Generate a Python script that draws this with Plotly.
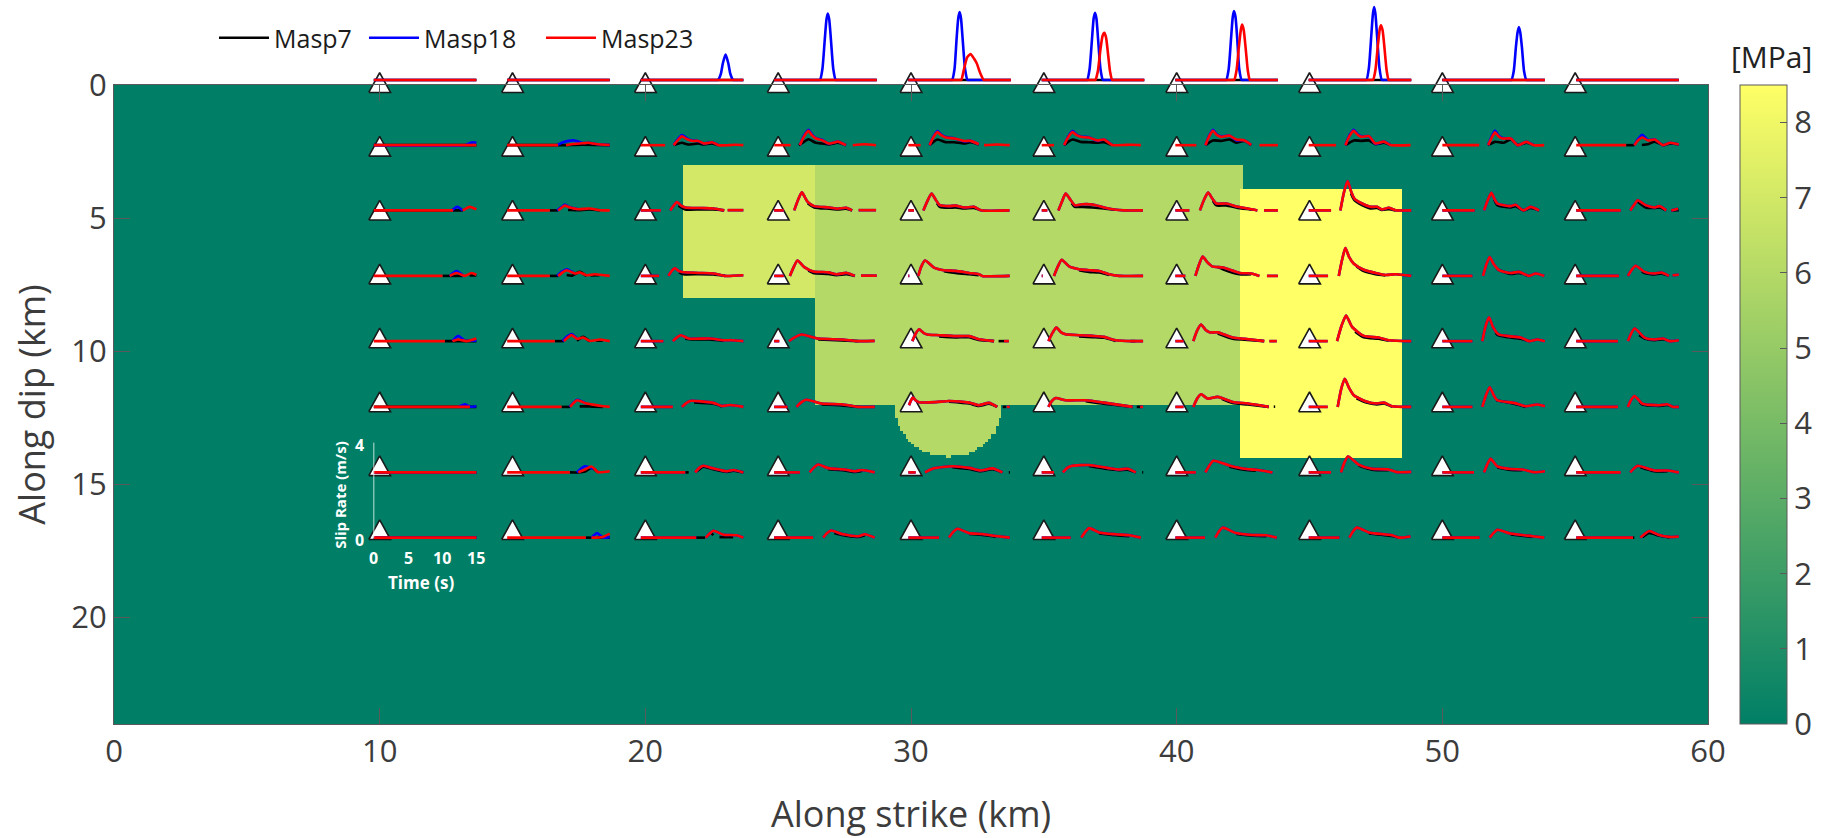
import numpy as np
import plotly.graph_objects as go

# ---------- model patches (km, km, km, km, MPa) ----------
CELL_KM = 0.1
X_KM = [0, 60]
Y_KM = [0, 24]
PATCHES = [
    (21.4, 26.4, 3.0, 8.0, 7.0),
    (26.4, 42.5, 3.0, 12.0, 6.0),
    (42.4, 48.5, 3.9, 14.0, 8.5),
]
# semicircular patch below the central asperity: half-width per 0.1 km row from y=12
BULGE_CENTRE = 31.45
BULGE_TOP = 12.0
BULGE_VALUE = 6.0
BULGE_HALF_WIDTHS = [2.0, 2.0, 2.0, 2.0, 2.0, 1.9, 1.9, 1.9, 1.8, 1.8, 1.7, 1.6, 1.6, 1.5, 1.4, 1.3, 1.1, 1.0, 0.7, 0.1]

# ---------- stations ----------
STATION_X = [10, 15, 20, 25, 30, 35, 40, 45, 50, 55]
STATION_Y = [-0.09, 2.3, 4.7, 7.1, 9.5, 11.9, 14.3, 16.7]
WAVE_START_X = [9.78, 14.8, 19.83, 24.85, 29.9, 34.92, 39.95, 44.97, 50.0, 55.04]
WAVE_BASE_Y = [-0.19, 2.26, 4.71, 7.17, 9.62, 12.09, 14.55, 17.0]

# ---------- slip-rate traces: station -> segments of (time s, slip rate m/s) ----------
FLAT = [[(0, 0), (15, 0)]]

RED_ROW0 = {10: FLAT, 15: FLAT, 20: FLAT, 25: FLAT,
    30: [[(0, 0), (7.5, 0), (7.74, 0), (8.1, 0.4), (8.6, 0.95), (9.1, 1.09), (9.6, 0.9), (10.0, 0.7), (10.5, 0.3), (11.03, 0), (11.3, 0), (15, 0)]],
    35: [[(0, 0), (7.6, 0), (7.84, 0), (8.2, 0.35), (8.6, 1.3), (8.9, 1.85), (9.15, 1.98), (9.4, 1.8), (9.7, 1.1), (10.0, 0.35), (10.3, 0), (10.6, 0), (15, 0)]],
    40: [[(0, 0), (8.4, 0), (8.6, 0), (8.95, 0.4), (9.3, 1.4), (9.6, 2.15), (9.78, 2.33), (10.0, 2.1), (10.3, 1.3), (10.6, 0.4), (10.9, 0), (11.2, 0), (15, 0)]],
    45: [[(0, 0), (9.2, 0), (9.4, 0), (9.75, 0.4), (10.1, 1.4), (10.4, 2.15), (10.56, 2.3), (10.8, 2.1), (11.1, 1.3), (11.4, 0.4), (11.7, 0), (12.0, 0), (15, 0)]],
    50: FLAT, 55: FLAT}
BLUE_ROW0 = {10: FLAT, 15: FLAT,
    20: [[(0, 0), (11.0, 0), (11.3, 0), (11.7, 0.25), (12.0, 0.7), (12.4, 1.07), (12.8, 0.7), (13.1, 0.25), (13.5, 0), (13.8, 0), (15, 0)]],
    25: [[(0, 0), (6.4, 0), (6.7, 0), (7.05, 0.45), (7.4, 1.7), (7.65, 2.55), (7.84, 2.8), (8.05, 2.55), (8.3, 1.7), (8.65, 0.45), (9.0, 0), (9.3, 0), (15, 0)]],
    30: [[(0, 0), (6.1, 0), (6.4, 0), (6.75, 0.45), (7.05, 1.7), (7.3, 2.6), (7.5, 2.86), (7.7, 2.6), (7.95, 1.7), (8.3, 0.45), (8.65, 0), (9.0, 0), (15, 0)]],
    35: [[(0, 0), (6.4, 0), (6.65, 0), (7.0, 0.45), (7.35, 1.7), (7.6, 2.6), (7.8, 2.83), (8.0, 2.6), (8.25, 1.7), (8.6, 0.45), (8.95, 0), (9.25, 0), (15, 0)]],
    40: [[(0, 0), (7.2, 0), (7.45, 0), (7.8, 0.45), (8.15, 1.75), (8.4, 2.65), (8.58, 2.9), (8.8, 2.65), (9.05, 1.75), (9.35, 0.45), (9.7, 0), (10.0, 0), (15, 0)]],
    45: [[(0, 0), (8.2, 0), (8.45, 0), (8.8, 0.5), (9.15, 1.85), (9.4, 2.8), (9.57, 3.07), (9.75, 2.8), (10.0, 1.85), (10.35, 0.5), (10.7, 0), (11.0, 0), (15, 0)]],
    50: [[(0, 0), (9.8, 0), (10.1, 0), (10.45, 0.38), (10.75, 1.35), (11.0, 2.0), (11.2, 2.23), (11.4, 2.0), (11.65, 1.35), (11.95, 0.38), (12.3, 0), (12.6, 0), (15, 0)]],
    55: FLAT}
BLACK_ROW0 = {k: FLAT for k in STATION_X}

RED_ROW1 = {
    10: FLAT,
    15: [[(0, 0), (7.46, 0)], [(8.6, 0), (9.5, 0.05), (11, 0.08), (11.9, 0.1), (13, 0.05), (15, 0.01)]],
    20: [[(0, 0), (3.56, 0)], [(4.8, 0), (5.4, 0.2), (6, 0.37), (6.7, 0.26), (7.5, 0.18), (8.4, 0.18), (9.2, 0.07), (9.8, 0.09), (10.4, 0.125), (11.4, 0), (12.8, 0), (13.8, 0.02), (15, 0)]],
    25: [[(0, 0), (2.4, 0)], [(3.75, 0), (4.4, 0.38), (5, 0.6), (5.5, 0.42), (6.1, 0.28), (7, 0.21), (7.97, 0.07), (8.6, 0.1), (9.3, 0.15), (10.5, 0)], [(11.5, 0), (13.2, 0.04), (14.9, 0)]],
    30: [[(0, 0), (1.8, 0)], [(3.1, 0), (3.7, 0.35), (4.25, 0.55), (4.8, 0.42), (5.5, 0.32), (6.7, 0.28), (8.15, 0.18), (9.1, 0.18), (10.3, 0.04)], [(11.07, 0), (13, 0.03), (14.83, 0)]],
    35: [[(0, 0), (1.8, 0)], [(3.27, 0), (3.9, 0.35), (4.5, 0.55), (5.1, 0.42), (5.7, 0.35), (6.9, 0.32), (8.15, 0.2), (9.1, 0.24), (10.3, 0.01), (12, 0.01), (13, 0.02), (14.5, 0)]],
    40: [[(0, 0), (3.07, 0)], [(4.4, 0), (5, 0.4), (5.5, 0.6), (6.1, 0.42), (6.7, 0.35), (7.95, 0.4), (8.9, 0.24), (10.1, 0.2), (11.1, 0.01)], [(12.3, 0), (15, 0)]],
    45: [[(0, 0), (4, 0)], [(5.37, 0), (6, 0.4), (6.6, 0.6), (7.1, 0.45), (7.7, 0.35), (8.8, 0.38), (9.76, 0.07), (11, 0.15), (11.95, 0.01), (14.9, 0)]],
    50: [[(0, 0), (5.4, 0)], [(6.7, 0), (7.2, 0.3), (7.7, 0.54), (8.2, 0.38), (8.8, 0.28), (10, 0.28), (11, 0), (12.3, 0.14), (13.4, 0), (14.9, 0)]],
    55: [[(0, 0), (7.3, 0)], [(8.5, 0), (9.1, 0.22), (9.66, 0.32), (10.5, 0.2), (11.5, 0.24), (12.7, 0), (13.75, 0.1), (15, 0.03)]],
}
BLUE_ROW1 = {
    10: [[(0, 0), (13.3, 0), (14.0, 0.08), (14.5, 0.12), (15, 0.1)]],
    15: [[(7.3, 0), (8, 0.1), (9, 0.18), (9.7, 0.2), (10.5, 0.14), (11, 0.09), (12, 0.1), (13, 0.05), (15, 0)]],
    20: [[(4.8, 0), (5.4, 0.25), (6, 0.43), (6.7, 0.3), (7.5, 0.2), (8.4, 0.18), (9.2, 0.07), (10.4, 0.125), (11.4, 0)]],
    25: [[(3.75, 0), (4.4, 0.42), (5, 0.65), (5.5, 0.46), (6.1, 0.3), (7, 0.23), (7.97, 0.06), (9.3, 0.15), (10.5, 0)]],
    30: [[(3.1, 0), (3.7, 0.38), (4.25, 0.6), (4.8, 0.45), (5.5, 0.34), (6.7, 0.29), (8.15, 0.16), (9.1, 0.18), (10.3, 0.04)]],
    35: [[(3.27, 0), (3.9, 0.38), (4.5, 0.6), (5.1, 0.45), (5.7, 0.37), (6.9, 0.33), (8.15, 0.18), (9.1, 0.24), (10.3, 0.01)]],
    40: [[(4.4, 0), (5, 0.43), (5.5, 0.65), (6.1, 0.45), (6.7, 0.37), (7.95, 0.4), (8.9, 0.21), (10.1, 0.2), (11.1, 0.01)]],
    45: [[(5.37, 0), (6, 0.44), (6.6, 0.65), (7.1, 0.48), (7.7, 0.37), (8.8, 0.38), (9.76, 0.05), (11, 0.15), (11.95, 0.01)]],
    50: [[(6.7, 0), (7.2, 0.35), (7.7, 0.62), (8.2, 0.42), (8.8, 0.3), (10, 0.28), (11, 0), (12.3, 0.14), (13.4, 0)]],
    55: [[(8.5, 0), (9.1, 0.28), (9.66, 0.44), (10.5, 0.22), (11.5, 0.24), (12.7, 0), (13.75, 0.1), (15, 0.03)]],
}
BLACK_ROW1 = {
    10: FLAT,
    15: [[(0, 0), (8, 0), (11, 0.02), (15, 0)]],
    20: [[(4.8, 0.01), (5.4, 0.06), (6, 0.1), (6.9, 0.03), (7.5, 0.04), (8.4, 0.07), (9.2, 0.03), (10.4, 0.07), (11.4, 0)]],
    25: [[(3.6, 0), (4.4, 0.15), (5, 0.25), (6.1, 0.1), (7, 0.07), (7.97, 0.03), (9.3, 0.1), (10.5, 0)]],
    30: [[(3.1, 0), (3.7, 0.15), (4.25, 0.24), (5.5, 0.125), (6.7, 0.125), (8.15, 0.07), (9.1, 0.12), (10.3, 0.03)]],
    35: [[(3.27, 0), (3.9, 0.15), (4.5, 0.24), (5.7, 0.14), (6.9, 0.125), (8.15, 0.1), (9.1, 0.125), (10.3, 0)]],
    40: [[(4.4, 0), (5.5, 0.2), (6.7, 0.18), (7.95, 0.24), (8.9, 0.1), (10.1, 0.18), (11.1, 0)]],
    45: [[(5.37, 0), (6.6, 0.2), (7.7, 0.18), (8.8, 0.2), (9.76, 0.04), (11, 0.1), (11.95, 0)]],
    50: [[(6.7, 0), (7.7, 0.14), (9, 0.1), (10, 0.24), (11, 0.01), (12.3, 0.1), (13.4, 0)]],
    55: [[(7.3, 0), (8.5, 0)], [(9.6, 0.01), (10.5, 0.04), (11.5, 0.15), (12.7, 0), (13.75, 0.07), (15, 0.03)]],
}

RED_ROW2 = {
    10: [[(0, 0), (11.6, 0)], [(13, 0), (14.05, 0.15), (15, 0.04)]],
    15: [[(0, 0), (6.24, 0)], [(7.46, 0), (8, 0.12), (8.44, 0.2), (9.17, 0.12), (10.4, 0.05), (12.1, 0.08), (13.56, 0.01), (15, 0)]],
    20: [[(0, 0), (2.93, 0)], [(4.3, 0), (4.8, 0.2), (5.27, 0.35), (5.9, 0.2), (6.5, 0.125), (8.7, 0.1), (10.6, 0.08), (12.2, 0)], [(12.7, 0.01), (15, 0.01)]],
    25: [[(0, 0), (1.4, 0)], [(2.93, 0), (3.5, 0.45), (4.05, 0.76), (4.5, 0.55), (4.9, 0.36), (5.85, 0.18), (8.05, 0.125), (9.27, 0.07), (10.5, 0.11), (11.4, 0)], [(12.35, 0.01), (14.9, 0.01)]],
    30: [[(0, 0), (0.83, 0)], [(2.2, 0), (2.8, 0.4), (3.4, 0.71), (4, 0.45), (4.6, 0.22), (5.95, 0.18), (6.9, 0.2), (8.15, 0.12), (9.6, 0.15), (10.6, 0.01), (14.8, 0)]],
    35: [[(0, 0), (0.83, 0)], [(2.44, 0), (3, 0.4), (3.5, 0.71), (4.2, 0.45), (4.83, 0.22), (5.95, 0.26), (7.4, 0.25), (9.1, 0.125), (10.6, 0.04), (12, 0), (14.8, 0)]],
    40: [[(0, 0), (2.05, 0)], [(3.6, 0), (4.2, 0.45), (4.8, 0.75), (5.4, 0.5), (6, 0.29), (7.45, 0.29), (9.15, 0.15), (11.3, 0.04), (12, 0)], [(12.98, 0), (15, 0)]],
    45: [[(0, 0), (3.27, 0)], [(4.63, 0), (5.15, 0.75), (5.7, 1.24), (6.2, 0.8), (6.68, 0.5), (7.8, 0.29), (9, 0.15), (10, 0.15), (10.7, 0.04), (11.7, 0.11), (12.7, 0.01), (15, 0)]],
    50: [[(0, 0), (4.73, 0)], [(6.1, 0), (6.6, 0.4), (7.17, 0.74), (7.6, 0.5), (8.05, 0.29), (10, 0.18), (10.7, 0.24), (11.85, 0), (12.9, 0.15), (14.15, 0)]],
    55: [[(0, 0), (6.5, 0)], [(7.9, 0), (8.5, 0.25), (9, 0.43), (10.15, 0.22), (11.46, 0.125), (12.2, 0.18), (13.17, 0)], [(13.9, 0), (14.9, 0.07)]],
}
BLUE_ROW2 = {**RED_ROW2,
    10: [[(11.4, 0), (12.2, 0.15), (13, 0)]],
    15: [[(7.3, 0), (8, 0.15), (8.44, 0.25), (9.17, 0.13), (10.4, 0.05)]],
}
BLACK_ROW2 = {
    10: [[(0, 0), (13, 0)]],
    15: [[(6.24, 0), (7.46, 0)], [(8.9, 0.02), (9.17, 0.015), (10.4, 0.01), (12.1, 0.04), (13.56, 0)]],
    20: [[(5.5, 0.2), (6.5, 0.04), (8.7, 0.04), (10.6, 0.04), (12.2, 0)]],
    25: [[(4.9, 0.3), (5.85, 0.125), (8.05, 0.07), (9.27, 0.04), (10.5, 0.07), (11.4, 0)]],
    30: [[(4.2, 0.3), (4.6, 0.15), (5.95, 0.11), (6.9, 0.125), (8.15, 0.08), (9.6, 0.1), (10.6, 0)]],
    35: [[(4.4, 0.3), (4.83, 0.15), (5.95, 0.15), (7.4, 0.125), (9.1, 0.08), (10.6, 0.03)]],
    40: [[(5.5, 0.4), (6, 0.21), (7.45, 0.21), (9.15, 0.1), (11.3, 0.03)]],
    45: [[(6.2, 0.7), (6.68, 0.43), (7.8, 0.22), (9, 0.08), (10, 0.1), (10.7, 0.02), (11.7, 0.05), (12.7, 0)]],
    50: [[(7.6, 0.45), (8.05, 0.22), (10, 0.125), (10.7, 0.18), (11.85, 0), (12.9, 0.1), (14.15, 0)]],
    55: [[(9, 0.36), (10.15, 0.125), (11.46, 0.1), (12.2, 0.125), (13.17, 0)], [(13.9, 0), (15, 0.01)]],
}

RED_ROW3 = {
    10: [[(0, 0), (10.05, 0)], [(11.1, 0), (12.1, 0.125), (13.3, 0), (14.3, 0.125), (15, 0.05)]],
    15: [[(0, 0), (6.24, 0)], [(7.46, 0), (8.1, 0.15), (8.7, 0.24), (9.9, 0.1), (10.6, 0.15), (11.6, 0.03), (12.83, 0.07), (15, 0)]],
    20: [[(0, 0), (2.68, 0)], [(4.05, 0), (4.5, 0.2), (5, 0.32), (5.6, 0.2), (6.25, 0.15), (8.44, 0.125), (10.6, 0.1), (12.3, 0), (15, 0.03)]],
    25: [[(0, 0), (1.4, 0)], [(2.3, 0), (2.9, 0.4), (3.4, 0.65), (4.4, 0.37), (5.7, 0.19), (7.9, 0.15), (9.1, 0.07), (10.6, 0.125), (11.8, 0)], [(12.7, 0.01), (15, 0.01)]],
    30: [[(0, 0), (0.15, 0)], [(1.46, 0), (1.9, 0.4), (2.44, 0.65), (3.75, 0.35), (5.2, 0.24), (6.9, 0.21), (8.9, 0.125), (10.3, 0.07), (10.8, 0), (14.83, 0)]],
    35: [[(0, 0), (0.15, 0)], [(1.8, 0), (2.4, 0.42), (2.93, 0.68), (4, 0.4), (5.46, 0.28), (6.9, 0.24), (8.4, 0.21), (9.85, 0.07), (11.3, 0), (14.83, 0)]],
    40: [[(0, 0), (1.46, 0)], [(2.93, 0), (3.5, 0.5), (4, 0.82), (4.6, 0.6), (5.4, 0.4), (6.96, 0.35), (9.4, 0.125), (11.1, 0.1), (12.3, 0)], [(13.4, 0), (15, 0)]],
    45: [[(0, 0), (2.83, 0)], [(4.4, 0), (4.9, 0.7), (5.37, 1.17), (5.9, 0.8), (6.6, 0.51), (8.05, 0.26), (9.76, 0.125), (11.2, 0.04), (12.7, 0.07), (15, 0)]],
    50: [[(0, 0), (4.4, 0)], [(5.95, 0), (6.4, 0.45), (6.93, 0.79), (7.5, 0.5), (8.3, 0.24), (10, 0.125), (11.2, 0.17), (12.7, 0), (13.66, 0.1), (14.9, 0)]],
    55: [[(0, 0), (6.24, 0)], [(7.56, 0), (8.1, 0.25), (8.7, 0.43), (10, 0.17), (11.46, 0.1), (12.44, 0.14), (13.56, 0)], [(14.1, 0.03), (15, 0.05)]],
}
BLUE_ROW3 = {**RED_ROW3,
    10: [[(11.1, 0), (12.1, 0.2), (13.1, 0)]],
    15: [[(7.3, 0), (8, 0.18), (8.7, 0.28), (9.9, 0.1)]],
}
BLACK_ROW3 = {
    10: [[(10.05, 0), (13, 0)], [(14, 0.02), (15, 0.02)]],
    15: [[(6.24, 0), (7.46, 0)], [(8.7, 0.04), (9.5, 0.01), (10.6, 0.17), (11.6, 0)], [(12.2, 0.02), (13.5, 0.03)]],
    20: [[(5.6, 0.15), (6.25, 0.07), (8.44, 0.07), (10.6, 0.06), (12.3, 0)]],
    25: [[(5, 0.22), (5.7, 0.125), (7.9, 0.08), (9.1, 0.03), (10.6, 0.07), (11.8, 0)]],
    30: [[(5.2, 0.2), (6.9, 0.125), (8.9, 0.07), (10.3, 0.03)]],
    35: [[(5.46, 0.24), (6.9, 0.17), (8.4, 0.14), (9.85, 0.04)]],
    40: [[(6.2, 0.38), (6.96, 0.28), (9.4, 0.07), (11.1, 0.07)]],
    45: [[(7, 0.4), (8.05, 0.2), (9.76, 0.07), (11.2, 0.02)]],
    50: [[(8, 0.28), (10, 0.08), (11.2, 0.12), (12.7, 0)]],
    55: [[(9.6, 0.2), (10, 0.12), (11.46, 0.06), (12.44, 0.1), (13.56, 0)]],
}

RED_ROW4 = {
    10: [[(0, 0), (10.4, 0)], [(11.5, 0), (12.34, 0.07), (13.56, 0), (15, 0.11)]],
    15: [[(0, 0), (6.97, 0)], [(8.3, 0), (8.9, 0.16), (9.4, 0.26), (10.2, 0.1), (11.1, 0.15), (12.1, 0.01), (13.56, 0.07), (15, 0)]],
    20: [[(0, 0), (3.3, 0)], [(4.68, 0), (5.3, 0.16), (5.85, 0.25), (7, 0.11), (10.1, 0.11), (12.1, 0.04), (13.3, 0.04), (15, 0)]],
    25: [[(0, 0), (0.75, 0)], [(2.15, 0), (3, 0.16), (4, 0.28), (6.44, 0.11), (9.85, 0.07), (12.3, 0), (14.7, 0.01)]],
    30: [[(0.58, 0), (1.05, 0.3), (1.56, 0.5), (2.2, 0.35), (2.78, 0.28), (4.5, 0.25), (6.93, 0.21), (8.9, 0.21), (10.3, 0.08), (12.54, 0)], [(14, 0), (14.7, 0)]],
    35: [[(0.98, 0), (1.6, 0.36), (2.15, 0.57), (2.8, 0.38), (3.5, 0.29), (5.46, 0.25), (7.4, 0.22), (9.1, 0.18), (10.8, 0.04), (13.3, 0), (14.83, 0)]],
    40: [[(0, 0), (1.2, 0)], [(2.63, 0), (3.2, 0.45), (3.76, 0.7), (4.4, 0.48), (5, 0.37), (6.2, 0.37), (8.4, 0.15), (10.1, 0.1), (13, 0)], [(13.76, 0), (14.83, 0)]],
    45: [[(0, 0), (2.78, 0)], [(4.15, 0), (4.8, 0.65), (5.46, 1.08), (5.9, 0.85), (6.34, 0.6), (8.05, 0.22), (10.2, 0.15), (11.7, 0.04), (15, 0)]],
    50: [[(0, 0), (4.4, 0)], [(5.85, 0), (6.3, 0.6), (6.83, 1.0), (7.4, 0.6), (8.2, 0.29), (9.75, 0.21), (11.46, 0.15), (12.7, 0), (13.9, 0.07), (15, 0)]],
    55: [[(0, 0), (6.1, 0)], [(7.56, 0), (8, 0.3), (8.54, 0.53), (10, 0.15), (11.46, 0.07), (12.7, 0.11), (13.66, 0), (15, 0.04)]],
}
BLUE_ROW4 = {**RED_ROW4,
    10: [[(11.5, 0), (12.34, 0.22), (13.3, 0.03), (15, 0.02)]],
    15: [[(8.1, 0), (8.8, 0.2), (9.4, 0.3), (10.2, 0.12)]],
}
BLACK_ROW4 = {
    10: [[(10.4, 0), (15, 0)]],
    15: [[(6.97, 0), (8.3, 0)], [(10.2, 0.02), (11.1, 0.18), (12.1, -0.02)], [(13, 0.02), (14, 0.03)]],
    20: [[(6.5, 0.1), (7.5, 0.07), (10.1, 0.07), (12.1, 0.01)]],
    25: [[(6.44, 0.07), (9.85, 0.03), (12.3, 0)]],
    30: [[(4.5, 0.2), (6.93, 0.16), (8.9, 0.16), (10.3, 0.05), (12.54, 0)], [(13.2, 0), (14, 0)]],
    35: [[(5.46, 0.2), (7.4, 0.17), (9.1, 0.14), (10.8, 0.01)], [(13, 0), (13.7, 0)]],
    40: [[(6.2, 0.32), (8.4, 0.1), (10.1, 0.06), (13, 0)]],
    45: [[(6.8, 0.4), (8.05, 0.16), (10.2, 0.1), (11.7, 0.02)]],
    50: [[(7.8, 0.35), (8.2, 0.24), (9.75, 0.16), (11.46, 0.1), (12.7, 0)]],
    55: [[(9.2, 0.25), (10, 0.11), (11.46, 0.04), (12.7, 0.08), (13.66, 0)]],
}

RED_ROW5 = {
    10: [[(0, 0), (14.05, 0)]],
    15: [[(0, 0), (7.95, 0)], [(9.2, 0), (9.7, 0.16), (10.24, 0.28), (11.6, 0.14), (13.56, 0.05), (15, 0)]],
    20: [[(0, 0), (4.68, 0)], [(6, 0), (6.6, 0.15), (7.2, 0.25), (10.6, 0.17), (11.85, 0.04), (13.07, 0.08), (15, 0)]],
    25: [[(0, 0), (1.95, 0)], [(3.27, 0), (4, 0.2), (4.7, 0.3), (6.93, 0.14), (9.85, 0.11), (12.3, 0), (14.7, 0)]],
    30: [[(0.1, 0.07), (0.4, 0.28), (0.68, 0.39), (1.1, 0.27), (1.56, 0.2), (4, 0.2), (5.95, 0.25), (8.9, 0.18), (10.3, 0.07), (11.8, 0.17), (13, 0)], [(14.4, 0), (14.83, 0)]],
    35: [[(0.98, 0), (1.5, 0.25), (2.05, 0.375), (3.5, 0.28), (6.44, 0.28), (9.1, 0.18), (13.3, 0)], [(14.4, 0), (14.83, 0)]],
    40: [[(0, 0), (1.2, 0)], [(2.63, 0), (3.2, 0.35), (3.76, 0.53), (4.73, 0.35), (6.2, 0.42), (8.4, 0.21), (10.6, 0.14), (13.66, 0)]],
    45: [[(0, 0), (2.78, 0)], [(4.24, 0), (4.75, 0.75), (5.27, 1.18), (5.9, 0.8), (6.6, 0.49), (8.3, 0.24), (10, 0.14), (11, 0.18), (12.2, 0.03), (15, 0)]],
    50: [[(0, 0), (4.4, 0)], [(5.85, 0), (6.4, 0.5), (6.93, 0.83), (7.5, 0.5), (8.05, 0.28), (10.5, 0.17), (12.2, 0.03), (13.9, 0.1), (15, 0.03)]],
    55: [[(0, 0), (6.1, 0)], [(7.56, 0), (8, 0.28), (8.54, 0.46), (9.66, 0.14), (12.2, 0.07), (13.3, 0.11), (14.15, 0), (15, 0)]],
}
BLUE_ROW5 = {**RED_ROW5,
    10: [[(12.4, 0), (13.3, 0.11), (14.1, 0.01), (15, 0.03)]],
    15: [[(9.1, 0), (9.7, 0.18), (10.24, 0.3), (11.6, 0.14)]],
}
BLACK_ROW5 = {
    10: FLAT,
    15: [[(7.95, 0), (9.2, 0)], [(10.6, 0.02), (12, 0.02), (14, 0)]],
    20: [[(7.8, 0.19), (10.6, 0.13), (11.85, 0.02)]],
    25: [[(6.93, 0.1), (9.85, 0.06), (12.3, 0)]],
    30: [[(5.95, 0.22), (8.9, 0.14), (10.3, 0.04), (11.8, 0.13), (13, 0)], [(13.8, 0), (14.3, 0)]],
    35: [[(6.44, 0.24), (9.1, 0.13), (13.3, 0)], [(13.9, 0), (14.5, 0)]],
    40: [[(6.8, 0.34), (8.4, 0.16), (10.6, 0.1), (13.66, 0)], [(14.4, 0.01), (14.6, 0.01)]],
    45: [[(7, 0.36), (8.3, 0.19), (10, 0.1), (11, 0.14), (12.2, 0)]],
    50: [[(7.9, 0.28), (10.5, 0.13), (12.2, 0)]],
    55: [[(9.3, 0.2), (9.66, 0.1), (12.2, 0.04), (13.3, 0.08), (14.15, 0)]],
}

RED_ROW6 = {
    10: FLAT,
    15: [[(0, 0), (9.17, 0)], [(10.4, 0), (11.37, 0.12), (12.34, 0.25), (13.3, 0.01), (15, 0.05)]],
    20: [[(0, 0), (6.5, 0)], [(7.95, 0), (8.6, 0.2), (9.17, 0.28), (10.6, 0.17), (12.6, 0.05), (13.56, 0.1), (15, 0)]],
    25: [[(0, 0), (3.76, 0)], [(5.2, 0), (5.8, 0.2), (6.44, 0.33), (7.9, 0.18), (10.3, 0.125), (11.8, 0.05), (12.8, 0.1), (14.7, 0)]],
    30: [[(0, 0), (1.07, 0)], [(2.44, 0), (3.75, 0.17), (6.44, 0.26), (8.9, 0.19), (10.6, 0.08), (12.3, 0.17), (13.76, 0)]],
    35: [[(0, 0), (1.8, 0)], [(3.1, 0), (3.8, 0.2), (4.5, 0.28), (6.9, 0.31), (9.6, 0.19), (11.3, 0.125), (12.54, 0.15), (13.76, 0)]],
    40: [[(0, 0), (3, 0)], [(4.4, 0), (5, 0.3), (5.56, 0.49), (7.9, 0.29), (10.1, 0.15), (11.76, 0.11), (14.2, 0)]],
    45: [[(0, 0), (3.27, 0)], [(4.73, 0), (5.2, 0.4), (5.76, 0.67), (7.3, 0.33), (9.27, 0.15), (11.7, 0.125), (12.9, 0.01), (15, 0.02)]],
    50: [[(0, 0), (4.63, 0)], [(6.1, 0), (6.6, 0.35), (7.07, 0.57), (8.05, 0.25), (10, 0.14), (11.7, 0.125), (13.4, 0.01), (15, 0.05)]],
    55: [[(0, 0), (6.5, 0)], [(7.9, 0), (8.5, 0.18), (9, 0.28), (11.46, 0.08), (13.4, 0.08), (15, 0)]],
}
BLUE_ROW6 = {**RED_ROW6,
    15: [[(10.2, 0), (10.9, 0.18), (11.37, 0.26), (12, 0.22), (12.6, 0.15)]],
}
BLACK_ROW6 = {
    10: FLAT,
    15: [[(9.17, 0), (10.4, 0), (11.37, 0.04), (12.34, 0.2), (13.3, 0)]],
    20: [[(6.5, 0), (7, 0)], [(8.2, 0.05), (9.17, 0.24), (10.6, 0.13), (12.6, 0.02), (13.56, 0.07), (15, 0)]],
    25: [[(7.9, 0.13), (10.3, 0.08), (11.8, 0.02), (12.8, 0.06)]],
    30: [[(6.44, 0.22), (8.9, 0.14), (10.6, 0.05), (12.3, 0.13), (13.76, 0)], [(14.7, 0), (14.85, 0)]],
    35: [[(6.9, 0.27), (9.6, 0.14), (11.3, 0.09), (12.54, 0.11), (13.76, 0)], [(14.7, 0), (14.85, 0)]],
    40: [[(7.9, 0.24), (10.1, 0.11), (11.76, 0.07)]],
    45: [[(7.3, 0.29), (9.27, 0.11), (11.7, 0.09)]],
    50: [[(8.05, 0.21), (10, 0.1), (11.7, 0.09)]],
    55: [[(9.4, 0.22), (11.46, 0.05), (13.4, 0.05)]],
}

RED_ROW7 = {
    10: FLAT,
    15: [[(0, 0), (11.5, 0)], [(12.34, 0), (14, 0.03), (15, 0.17)]],
    20: [[(0, 0), (8.1, 0)], [(9.5, 0), (10, 0.15), (10.6, 0.29), (12.1, 0.125), (14, 0.1), (15, 0)]],
    25: [[(0, 0), (5.7, 0)], [(7.17, 0), (7.7, 0.18), (8.3, 0.3), (10.1, 0.14), (12.3, 0.06), (13.26, 0.14), (14.7, 0)]],
    30: [[(0, 0), (4.5, 0)], [(5.95, 0), (6.6, 0.25), (7.17, 0.375), (8.9, 0.19), (10.83, 0.15), (12.8, 0.07), (14.83, 0)]],
    35: [[(0, 0), (4.24, 0)], [(5.8, 0), (6.4, 0.25), (6.93, 0.4), (8.4, 0.22), (10.83, 0.14), (12.8, 0.1), (14.5, 0)]],
    40: [[(0, 0), (4.34, 0)], [(5.85, 0), (6.4, 0.27), (6.93, 0.42), (8.9, 0.19), (11.3, 0.11), (13.3, 0.1), (14.83, 0)]],
    45: [[(0, 0), (4.5, 0)], [(5.95, 0), (6.5, 0.27), (7.07, 0.42), (8.8, 0.22), (12.2, 0.1), (13.2, 0), (14.9, 0.05)]],
    50: [[(0, 0), (5.46, 0)], [(6.93, 0), (7.5, 0.2), (8.05, 0.33), (10, 0.17), (13.2, 0.06), (14.9, 0)]],
    55: [[(0, 0), (8.3, 0)], [(9.37, 0), (10, 0.15), (10.7, 0.28), (12, 0.125), (13.66, 0.03), (15, 0.05)]],
}
BLUE_ROW7 = {**RED_ROW7,
    15: [[(12.34, 0), (13.17, 0.19), (14, 0), (15, 0.02)]],
}
BLACK_ROW7 = {
    10: FLAT,
    15: [[(11.5, 0), (12.34, 0)], [(13.2, 0.01), (15, 0)]],
    20: [[(8.1, 0), (9.4, 0)], [(10.3, 0.2), (10.6, 0.1)], [(11.5, 0.02), (13.5, 0.02)]],
    25: [[(8.8, 0.2), (10.1, 0.1), (12.3, 0.03), (13.26, 0.1)]],
    30: [[(8.9, 0.15), (10.83, 0.11), (12.8, 0.04)]],
    35: [[(8.4, 0.18), (10.83, 0.1), (12.8, 0.06)]],
    40: [[(8.9, 0.15), (11.3, 0.08), (13.3, 0.06)]],
    45: [[(8.8, 0.18), (12.2, 0.07), (13.2, 0)]],
    50: [[(10, 0.13), (13.2, 0.03)]],
    55: [[(8.3, 0), (8.5, 0)], [(9.7, 0.02), (10.7, 0.2), (12, 0.09), (13.66, 0.01)]],
}

RED_ROWS = [RED_ROW0, RED_ROW1, RED_ROW2, RED_ROW3, RED_ROW4, RED_ROW5, RED_ROW6, RED_ROW7]
BLUE_ROWS = [BLUE_ROW0, BLUE_ROW1, BLUE_ROW2, BLUE_ROW3, BLUE_ROW4, BLUE_ROW5, BLUE_ROW6, BLUE_ROW7]
BLACK_ROWS = [BLACK_ROW0, BLACK_ROW1, BLACK_ROW2, BLACK_ROW3, BLACK_ROW4, BLACK_ROW5, BLACK_ROW6, BLACK_ROW7]

X_TICKS = [0, 10, 20, 30, 40, 50, 60]
Y_TICKS = [0, 5, 10, 15, 20]
CBAR_TICKS = [0, 1, 2, 3, 4, 5, 6, 7, 8]
SERIES_NAMES = ["Masp7", "Masp18", "Masp23"]
INSET_TIME_TICKS = [0, 5, 10, 15]
INSET_RATE_TICKS = [0, 4]

# ---------- layout constants ----------
W, H = 1843, 838
L, R, T, B = 114, 1708, 85, 724
KM_PER_SECOND = 3.86 / 15
KM_PER_MPS = 0.892
TRI_HALF_W = 0.41
TRI_HALF_H = 0.37
TEXT = "#3c3c3c"
AXIS = "#5a5a5a"
FONT = "Open Sans"
SUMMER = [[0, "rgb(0,127,102)"], [1, "rgb(255,255,102)"]]
TICK_SIZE = 31
TITLE_SIZE = 36

# ---------- grid ----------
nx = int((X_KM[1] - X_KM[0]) / CELL_KM)
ny = int((Y_KM[1] - Y_KM[0]) / CELL_KM)
gx = (np.arange(nx) + 0.5) * CELL_KM
gy = (np.arange(ny) + 0.5) * CELL_KM
z = np.zeros((ny, nx))
for x0, x1, y0, y1, val in PATCHES:
    z[np.ix_((gy >= y0) & (gy < y1), (gx >= x0) & (gx < x1))] = val
for i, hw in enumerate(BULGE_HALF_WIDTHS):
    row = int(round(BULGE_TOP / CELL_KM)) + i
    z[row, np.abs(gx - BULGE_CENTRE) <= hw] = BULGE_VALUE


def polyline(rows):
    xs, ys = [], []
    for r, row in enumerate(rows):
        for c, st in enumerate(STATION_X):
            for seg in row.get(st, []):
                for t, v in seg:
                    xs.append(WAVE_START_X[c] + t * KM_PER_SECOND)
                    ys.append(WAVE_BASE_Y[r] - v * KM_PER_MPS)
                xs.append(None)
                ys.append(None)
    return xs, ys


fig = go.Figure()
# bottom layer: stress map
fig.add_trace(go.Heatmap(
    x=gx, y=gy, z=z, zmin=0, zmax=8.5, colorscale=SUMMER, hoverinfo="skip", xaxis="x", yaxis="y",
    colorbar=dict(
        x=1740 / W, xanchor="left", xpad=0, ypad=0, yref="paper", y=(H - (T + B) / 2) / H, yanchor="middle",
        len=(B - T) / H, lenmode="fraction", thickness=47,
        outlinecolor=AXIS, outlinewidth=1, ticks="inside", ticklen=7, tickcolor=AXIS, tickwidth=1,
        tickvals=CBAR_TICKS, tickfont=dict(family=FONT, size=TICK_SIZE, color=TEXT),
    ),
))

# middle layer (full-page axes so traces above the map's top edge are not clipped)
tx, ty = [], []
for sy in STATION_Y:
    for sx in STATION_X:
        tx += [sx - TRI_HALF_W, sx + TRI_HALF_W, sx, sx - TRI_HALF_W, None]
        ty += [sy + TRI_HALF_H, sy + TRI_HALF_H, sy - TRI_HALF_H, sy + TRI_HALF_H, None]
fig.add_trace(go.Scatter(x=tx, y=ty, mode="lines", fill="toself", fillcolor="white", xaxis="x2", yaxis="y2",
                         line=dict(color="#1a1a1a", width=1.6), showlegend=False, hoverinfo="skip"))

inset_x0 = WAVE_START_X[0]
inset_y0 = WAVE_BASE_Y[7]
fig.add_trace(go.Scatter(
    x=[inset_x0, inset_x0 + INSET_TIME_TICKS[-1] * KM_PER_SECOND], y=[inset_y0, inset_y0],
    xaxis="x2", yaxis="y2", mode="lines", line=dict(color="rgba(255,255,255,0.75)", width=1),
    showlegend=False, hoverinfo="skip"))

for name, rows, color, leg in zip(SERIES_NAMES, (BLACK_ROWS, BLUE_ROWS, RED_ROWS),
                                  ("#000000", "#0000ff", "#ff0000"), ("legend", "legend2", "legend3")):
    xs, ys = polyline(rows)
    fig.add_trace(go.Scatter(x=xs, y=ys, mode="lines", name=name, legend=leg, xaxis="x2", yaxis="y2",
                             connectgaps=False, hoverinfo="skip",
                             line=dict(color=color, width=2.6, shape="spline", smoothing=0.6)))

# top layer: the visible axes with the inset's vertical scale bar
fig.add_trace(go.Scatter(
    x=[inset_x0, inset_x0], y=[inset_y0 - INSET_RATE_TICKS[-1] * KM_PER_MPS, inset_y0],
    xaxis="x3", yaxis="y3", mode="lines", line=dict(color="rgba(255,255,255,0.75)", width=1),
    showlegend=False, hoverinfo="skip"))

annotations = []
inset_font = dict(family=FONT, size=16, color="white", weight="bold")
for t in INSET_TIME_TICKS:
    annotations.append(dict(x=inset_x0 + t * KM_PER_SECOND, y=inset_y0 + 0.77, xref="x", yref="y", text=str(t),
                            showarrow=False, font=inset_font))
for v in INSET_RATE_TICKS:
    annotations.append(dict(x=inset_x0 - 0.53, y=inset_y0 - v * KM_PER_MPS + 0.08, xref="x", yref="y", text=str(v),
                            showarrow=False, font=inset_font))
annotations.append(dict(x=inset_x0 + 1.78, y=inset_y0 + 1.67, xref="x", yref="y", text="Time (s)", showarrow=False,
                        font=dict(family=FONT, size=17, color="white", weight="bold")))
annotations.append(dict(x=inset_x0 - 1.28, y=inset_y0 - 1.6, xref="x", yref="y", text="Slip Rate (m/s)",
                        textangle=-90, showarrow=False, font=dict(family=FONT, size=15, color="white", weight="bold")))
annotations.append(dict(x=1771 / W, y=1 - 56 / H, xref="paper", yref="paper", xanchor="center", yanchor="middle",
                        text="[MPa]", showarrow=False, font=dict(family=FONT, size=30, color="#222222")))

legend_common = dict(yanchor="middle", xanchor="left", bgcolor="rgba(0,0,0,0)", borderwidth=0,
                     itemwidth=50, font=dict(family=FONT, size=25, color="#1c1c1c"))
dom_x = [L / W, R / W]
dom_y = [1 - B / H, 1 - T / H]
km_x = (R - L) / (X_KM[1] - X_KM[0])
km_y = (B - T) / (Y_KM[1] - Y_KM[0])


def hidden(domain, rng):
    return dict(domain=domain, range=rng, visible=False, showgrid=False, zeroline=False)


def shown(domain, rng, ticks, anchor, title, standoff):
    return dict(domain=domain, range=rng, tickvals=ticks, ticks="inside", ticklen=16, tickcolor=AXIS, tickwidth=1,
                showline=True, linecolor=AXIS, linewidth=1, mirror="allticks", showgrid=False, zeroline=False,
                anchor=anchor, tickfont=dict(family=FONT, size=TICK_SIZE, color=TEXT),
                title=dict(text=title, font=dict(family=FONT, size=TITLE_SIZE, color=TEXT), standoff=standoff))


fig.update_layout(
    width=W, height=H, margin=dict(l=0, r=0, t=0, b=0, autoexpand=False),
    plot_bgcolor="rgba(0,0,0,0)", paper_bgcolor="white",
    showlegend=True,
    legend=dict(x=214 / W, y=1 - 38 / H, **legend_common),
    legend2=dict(x=364 / W, y=1 - 38 / H, **legend_common),
    legend3=dict(x=541 / W, y=1 - 38 / H, **legend_common),
    xaxis=hidden(dom_x, X_KM),
    yaxis=hidden(dom_y, [Y_KM[1], Y_KM[0]]),
    xaxis2=dict(hidden([0, 1], [-L / km_x, (W - L) / km_x]), anchor="y2"),
    yaxis2=dict(hidden([0, 1], [(H - T) / km_y, -T / km_y]), anchor="x2"),
    xaxis3=shown(dom_x, X_KM, X_TICKS, "y3", "Along strike (km)", 31),
    yaxis3=shown(dom_y, [Y_KM[1], Y_KM[0]], Y_TICKS, "x3", "Along dip (km)", 14),
    annotations=annotations,
)

fig.write_html("out.html", config={"displayModeBar": False},
               post_script="document.body.style.margin='0';document.body.style.overflow='hidden';")
